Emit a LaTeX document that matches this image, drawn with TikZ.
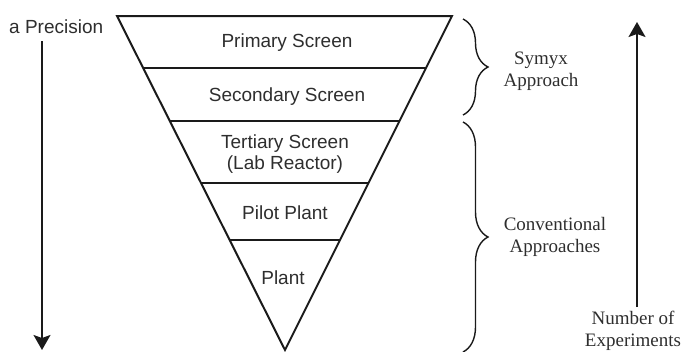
\documentclass[tikz,border=0pt]{standalone}
\usepackage{fontspec}
\setmainfont{Liberation Serif}
\setsansfont{Liberation Sans}
\usetikzlibrary{arrows.meta,calc,decorations.pathreplacing}
\definecolor{ink}{HTML}{1A1A1A}
\definecolor{txt}{HTML}{2E2E2E}
\tikzset{
  edge/.style={line width=2pt, draw=ink, line join=miter},
  level/.style={line width=1.8pt, draw=ink},
  lab/.style={font=\sffamily\fontsize{19}{21}\selectfont, text=txt, inner sep=0pt, align=center},
  slab/.style={font=\rmfamily\fontsize{19}{22}\selectfont, text=txt, inner sep=0pt, align=center},
  axis/.style={line width=1.6pt, draw=ink, -{Stealth[length=15pt,width=17pt,inset=3pt]}},
  brc/.style={line width=1.4pt, draw=ink, decorate, decoration={brace, amplitude=25pt}}
}
\begin{document}
\begin{tikzpicture}[x=1pt,y=-1pt]
\useasboundingbox (0,0) rectangle (683,351);
% triangle
\coordinate (tl) at (117,16);
\coordinate (tr) at (452,16);
\coordinate (ap) at (285,350);
\draw[edge] (tl) -- (tr) -- (ap) -- cycle;
% level lines
\foreach \n/\t in {a/0.156, b/0.314, c/0.5, d/0.671}{
  \coordinate (l\n) at ($(tl)!\t!(ap)$);
  \coordinate (r\n) at ($(tr)!\t!(ap)$);
  \draw[level] (l\n) -- (r\n);
}
% labels
\node[lab] (prim) at (287,43) {Primary Screen};
\node[lab] (sec) at (287,97) {Secondary Screen};
\node[lab] (ter) at (285,154) {Tertiary Screen\\(Lab Reactor)};
\node[lab] (pil) at (285,213) {Pilot Plant};
\node[lab] (pla) at (283,278) {Plant};
% left axis
\node[lab, anchor=west] (prec) at (9,27) {a Precision};
\coordinate (ltop) at (42,41);
\coordinate (lbot) at (42,350);
\draw[axis] (ltop) -- (lbot);
% braces
\coordinate (b1t) at (463,19);
\coordinate (b1b) at (463,115);
\coordinate (b2t) at (463,122);
\coordinate (b2b) at (463,352);
\draw[brc] (b1t) -- (b1b);
\draw[brc] (b2t) -- (b2b);
\node[slab] (sym) at (541,71) {Symyx\\Approach};
\node[slab] (conv) at (555,237) {Conventional\\Approaches};
% right axis
\node[slab] (num) at (633,331) {Number of\\Experiments};
\coordinate (rbot) at (637,307);
\coordinate (rtop) at (637,22);
\draw[axis] (rbot) -- (rtop);
\end{tikzpicture}
\end{document}
